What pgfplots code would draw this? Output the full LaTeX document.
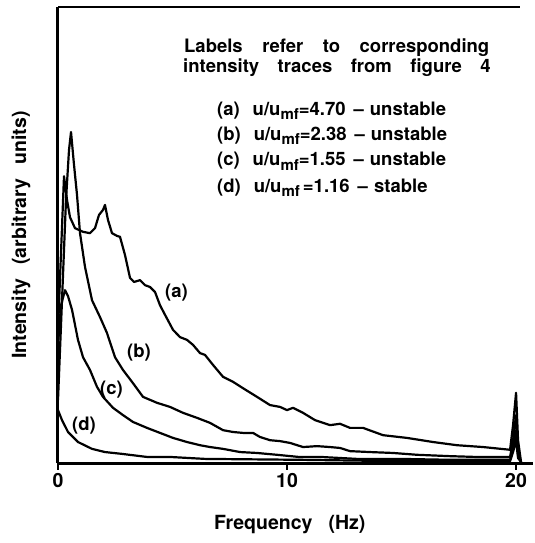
\documentclass[border=0pt]{standalone}
\usepackage{fontspec}
\setmainfont{TeX Gyre Heros}
\usepackage{pgfplots}
\pgfplotsset{compat=1.18}
\newcommand{\fs}{\fontsize{18.5}{22}\selectfont\bfseries}
\newcommand{\fl}{\fontsize{19.5}{23}\selectfont\bfseries}
\newcommand{\sub}[1]{\raisebox{-0.45ex}{\fontsize{15}{15}\selectfont\bfseries #1}}
\newcommand{\g}{\hspace{19.5pt}}
\begin{document}
\begin{tikzpicture}
\begin{axis}[
 scale only axis, width=475pt, height=456pt,
 xmin=0, xmax=20.74, ymin=0, ymax=1,
 axis x line*=bottom, axis y line*=left,
 axis line style={line width=3pt},
 xtick={0,10,20}, ytick=\empty,
 tick align=outside, major tick length=7pt,
 tick style={line width=1.5pt, black},
 ticklabel style={font=\fl},
 /pgf/number format/assume math mode=true,
 xlabel={Frequency\hspace{16pt}(Hz)},
 ylabel={Intensity\hspace{14pt}(arbitrary\hspace{14pt}units)},
 label style={font=\fl},
 xlabel style={at={(axis description cs:0.488,-0.1404)}, anchor=mid},
 ylabel style={at={(axis description cs:-0.0779,0.5)}, anchor=center},
]
% (a)
\addplot[black, line width=2.2pt, line join=round] coordinates {
(0,0.292)(0.262,0.629)(0.393,0.577)(0.524,0.539)(0.742,0.515)(1.092,0.507)(1.397,0.504)
(1.616,0.515)(1.790,0.544)(1.965,0.555)(2.052,0.566)(2.183,0.533)(2.358,0.504)(2.576,0.498)
(2.707,0.496)(2.926,0.456)(3.144,0.406)(3.319,0.397)(3.581,0.401)(3.799,0.390)(4.017,0.386)
(4.236,0.375)(4.454,0.346)(4.672,0.325)(5.022,0.292)(5.328,0.276)(5.633,0.270)(5.895,0.259)
(6.201,0.241)(6.419,0.237)(6.769,0.215)(7.205,0.189)(7.642,0.178)(8.079,0.164)(8.690,0.145)
(9.258,0.127)(9.694,0.123)(10.000,0.116)(10.262,0.121)(10.699,0.110)(11.223,0.094)(11.878,0.083)
(12.314,0.086)(12.751,0.077)(13.319,0.077)(14.192,0.061)(15.240,0.055)(16.376,0.046)(17.424,0.039)
(18.559,0.035)(19.738,0.029)(19.869,0.083)(20.000,0.154)(20.087,0.050)(20.218,0.002)};
% (b)
\addplot[black, line width=2.2pt, line join=round] coordinates {
(0,0.138)(0.175,0.357)(0.349,0.577)(0.480,0.686)(0.568,0.726)(0.699,0.654)(0.830,0.588)
(0.961,0.504)(1.179,0.430)(1.485,0.357)(1.834,0.320)(2.140,0.285)(2.489,0.232)(2.838,0.204)
(3.275,0.175)(3.712,0.145)(4.323,0.132)(4.891,0.123)(5.459,0.110)(6.070,0.099)(6.638,0.088)
(7.205,0.072)(7.642,0.068)(8.079,0.066)(8.515,0.066)(8.821,0.057)(9.258,0.050)(9.694,0.048)
(10.131,0.044)(10.699,0.035)(11.310,0.037)(11.878,0.035)(12.314,0.033)(12.751,0.026)(13.624,0.024)
(14.629,0.022)(15.677,0.018)(17.118,0.015)(18.428,0.013)(19.738,0.013)(19.869,0.050)(20.0,0.105)
(20.087,0.029)(20.218,0.002)};
% (c)
\addplot[black, line width=2.2pt, line join=round] coordinates {
(0,0.259)(0.131,0.346)(0.306,0.379)(0.437,0.366)(0.611,0.336)(0.742,0.303)(0.873,0.270)
(1.092,0.232)(1.397,0.204)(1.703,0.167)(1.965,0.145)(2.402,0.121)(2.838,0.105)(3.275,0.090)
(3.886,0.077)(4.454,0.066)(5.022,0.055)(5.633,0.046)(6.201,0.039)(6.638,0.035)(7.205,0.031)
(7.948,0.024)(8.690,0.022)(9.563,0.018)(10.568,0.013)(11.572,0.013)(13.057,0.009)(14.934,0.009)
(17.118,0.007)(19.738,0.007)(19.869,0.033)(20.0,0.072)(20.087,0.018)(20.218,0.002)};
% (d)
\addplot[black, line width=2.2pt, line join=round] coordinates {
(0,0.116)(0.175,0.094)(0.437,0.068)(0.873,0.046)(1.485,0.031)(2.052,0.024)(2.795,0.020)
(3.930,0.013)(4.978,0.013)(6.419,0.009)(10.568,0.007)(14.934,0.004)(19.738,0.004)(19.869,0.024)
(20.0,0.050)(20.087,0.011)(20.218,0.002)};
\draw[line width=3pt] (rel axis cs:0,1) -- (rel axis cs:0.973,1);
\node[anchor=mid west, font=\fs, inner sep=0pt] at (axis cs:5.50,0.906) {Labels\g refer\g to\g corresponding};
\node[anchor=mid west, font=\fs, inner sep=0pt] at (axis cs:5.46,0.862) {intensity\hspace{18.5pt}traces\hspace{18.5pt}from\hspace{18.5pt}figure\hspace{18.5pt}4};
\node[anchor=mid west, font=\fs, inner sep=0pt] at (axis cs:6.94,0.768) {(a)\hspace{13pt}u/u\sub{mf}=4.70\hspace{8pt}--\hspace{6pt}unstable};
\node[anchor=mid west, font=\fs, inner sep=0pt] at (axis cs:6.94,0.713) {(b)\hspace{13pt}u/u\sub{mf}=2.38\hspace{8pt}--\hspace{6pt}unstable};
\node[anchor=mid west, font=\fs, inner sep=0pt] at (axis cs:6.94,0.658) {(c)\hspace{13pt}u/u\sub{mf}=1.55\hspace{8pt}--\hspace{6pt}unstable};
\node[anchor=mid west, font=\fs, inner sep=0pt] at (axis cs:6.94,0.599) {(d)\hspace{13pt}u/u\sub{mf}\,=1.16\hspace{8pt}--\hspace{6pt}stable};
\node[anchor=mid west, font=\fs, inner sep=0pt] at (axis cs:4.67,0.368) {(a)};
\node[anchor=mid west, font=\fs, inner sep=0pt] at (axis cs:3.01,0.237) {(b)};
\node[anchor=mid west, font=\fs, inner sep=0pt] at (axis cs:1.83,0.156) {(c)};
\node[anchor=mid west, font=\fs, inner sep=0pt] at (axis cs:0.61,0.077) {(d)};
\end{axis}
\path ([shift={(-58pt,-80pt)}]current axis.south west) rectangle ([shift={(0pt,7pt)}]current axis.north east);
\end{tikzpicture}
\end{document}
